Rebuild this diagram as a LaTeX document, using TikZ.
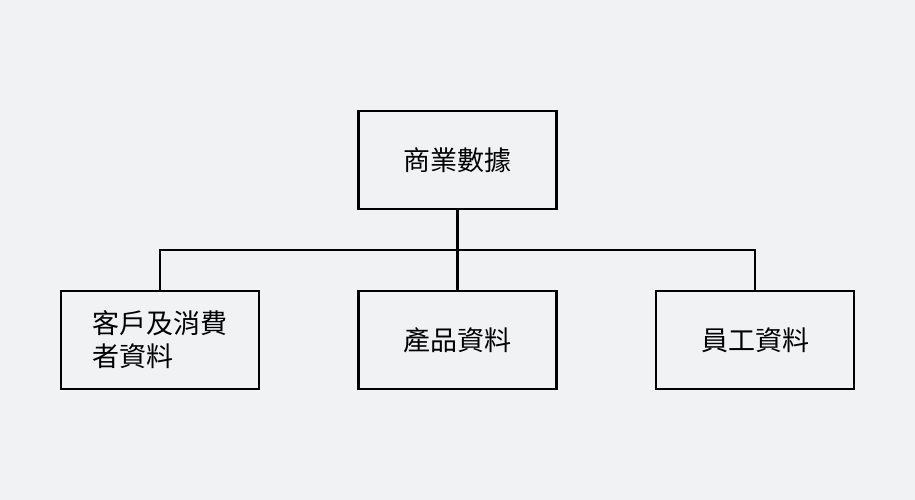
\documentclass[tikz,border=0pt]{standalone}
\usepackage{fontspec}
\newfontfamily\cjk{Noto Sans CJK TC}
\usetikzlibrary{positioning}
\definecolor{bg}{HTML}{F0F2F3}
\begin{document}
\begin{tikzpicture}[x=1pt,y=-1pt,
  box/.style={draw, line width=2.5pt, minimum width=198pt, minimum height=98pt, font=\cjk\fontsize{27}{33}\selectfont}]
\fill[bg] (0,0) rectangle (915,500);
\useasboundingbox (0,0) rectangle (915,500);

\node[box] (root) at (457.5,160) {商業數據};
\node[box, align=left] (cust) at (160,340) {客戶及消費\\者資料};
\node[box] (prod) at (457.5,340) {產品資料};
\node[box] (staff) at (755,340) {員工資料};

\coordinate (bus) at (457.5,250);
\draw[line width=2.5pt] (root.south) -- (bus);
\draw[line width=2.5pt] (cust.north) |- (bus) -| (staff.north);
\draw[line width=2.5pt] (bus) -- (prod.north);
\end{tikzpicture}
\end{document}
